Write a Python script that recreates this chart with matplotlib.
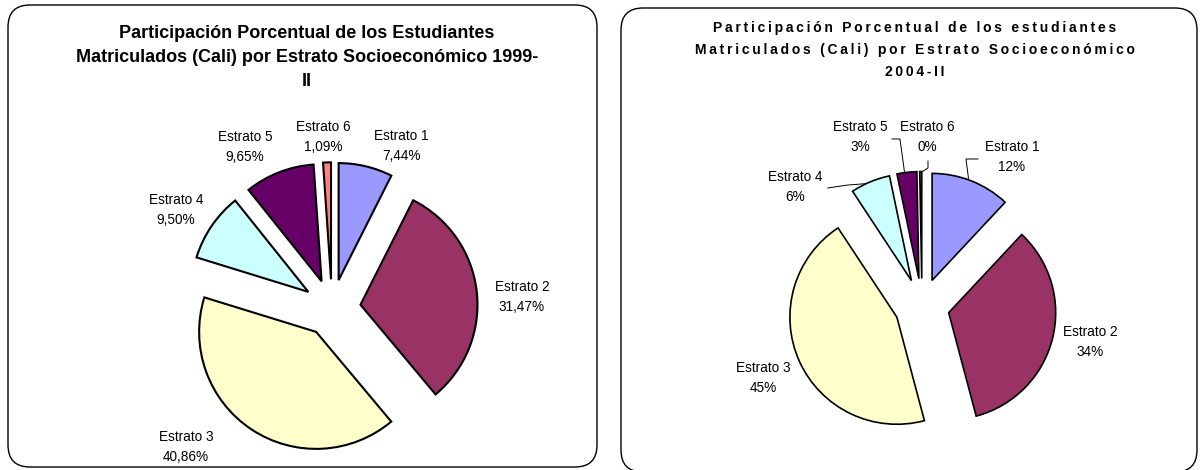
import matplotlib.pyplot as plt
import numpy as np
from matplotlib.patches import FancyBboxPatch

plt.rcParams['font.family'] = ['Liberation Sans', 'DejaVu Sans']

# data
estratos = ['Estrato 1', 'Estrato 2', 'Estrato 3', 'Estrato 4', 'Estrato 5', 'Estrato 6']
valores_1999 = [7.44, 31.47, 40.86, 9.50, 9.65, 1.09]
etiquetas_1999 = ['7,44%', '31,47%', '40,86%', '9,50%', '9,65%', '1,09%']
valores_2004 = [12, 34, 45, 6, 3, 0.3]
etiquetas_2004 = ['12%', '34%', '45%', '6%', '3%', '0%']
colores = ['#9999FF', '#993366', '#FFFFCC', '#CCFFFF', '#660066', '#FF8080']

W, H = 1201, 470
fig = plt.figure(figsize=(W / 100, H / 100), dpi=100)

# background axes in pixel coords for boxes and titles
bg = fig.add_axes([0, 0, 1, 1])
bg.set_xlim(0, W)
bg.set_ylim(H, 0)
bg.axis('off')

for (x0, y0, w, h) in [(8, 5, 589, 462), (621, 8, 576, 464)]:
    bg.add_patch(FancyBboxPatch((x0, y0), w, h, boxstyle='round,pad=0,rounding_size=22',
                                facecolor='white', edgecolor='black', linewidth=1.0))

titulo1 = ['Participación Porcentual de los Estudiantes',
           'Matriculados (Cali) por Estrato Socioeconómico 1999-', 'II']
for i, linea in enumerate(titulo1):
    bg.text(307, 33 + i * 24.5, linea, ha='center', va='center',
            fontsize=13, fontweight='bold')


def spaced(s):
    return '\u2009'.join(s)


titulo2 = ['Participación Porcentual de los estudiantes',
           'Matriculados (Cali) por Estrato Socioeconómico', '2004-II']
for i, linea in enumerate(titulo2):
    bg.text(915, 28 + i * 22, spaced(linea), ha='center', va='center',
            fontsize=10, fontweight='bold')


def dibujar_pie(cx, cy, r, valores, etiquetas, explode, pos, lw):
    half = 300
    ax = fig.add_axes([(cx - half) / W, (H - cy - half) / H, 2 * half / W, 2 * half / H])
    ax.pie(valores, colors=colores, startangle=90, counterclock=False,
           explode=[explode] * len(valores),
           wedgeprops=dict(edgecolor='black', linewidth=lw))
    lim = half / r
    ax.set_xlim(-lim, lim)
    ax.set_ylim(-lim, lim)
    ax.set_aspect('equal')
    ax.axis('off')
    for nombre, et, (lx, ly) in zip(estratos, etiquetas, pos):
        ax.text(lx, ly, nombre + '\n' + et, ha='center', va='center', fontsize=9.8,
                linespacing=1.55)
    return ax


pos_1999 = [(0.59, 1.385), (1.624, 0.094), (-1.248, -1.188), (-1.333, 0.838),
            (-0.744, 1.376), (-0.077, 1.462)]
pos_2004 = [(0.841, 1.393), (1.570, -0.336), (-1.486, -0.673), (-1.187, 1.112),
            (-0.579, 1.579), (0.047, 1.579)]

dibujar_pie(332, 308, 117, valores_1999, etiquetas_1999, 0.245, pos_1999, 1.5)
ax2 = dibujar_pie(922, 306, 107, valores_2004, etiquetas_2004, 0.257, pos_2004, 1.2)

# leader lines for the 2004 pie (anchor angle on arc, then bend points)
total = sum(valores_2004)
bordes = 90 - 360 * np.cumsum([0] + valores_2004) / total


def ancla(i, ang):
    mid = np.deg2rad((bordes[i] + bordes[i + 1]) / 2)
    a = np.deg2rad(ang)
    return (0.257 * np.cos(mid) + np.cos(a), 0.257 * np.sin(mid) + np.sin(a))


lideres = [(0, 70, [(0.411, 1.374), (0.523, 1.374)]),
           (3, 115, [(-0.70, 1.13), (-0.879, 1.103)]),
           (4, 97.7, [(-0.206, 1.561), (-0.280, 1.561)]),
           (5, 89.5, [(0.056, 1.290), (0.056, 1.355)])]
for i, ang, pts in lideres:
    p0 = ancla(i, ang)
    xs = [p0[0]] + [p[0] for p in pts]
    ys = [p0[1]] + [p[1] for p in pts]
    ax2.plot(xs, ys, color='black', linewidth=0.7)

plt.savefig('out.png', dpi=100)
